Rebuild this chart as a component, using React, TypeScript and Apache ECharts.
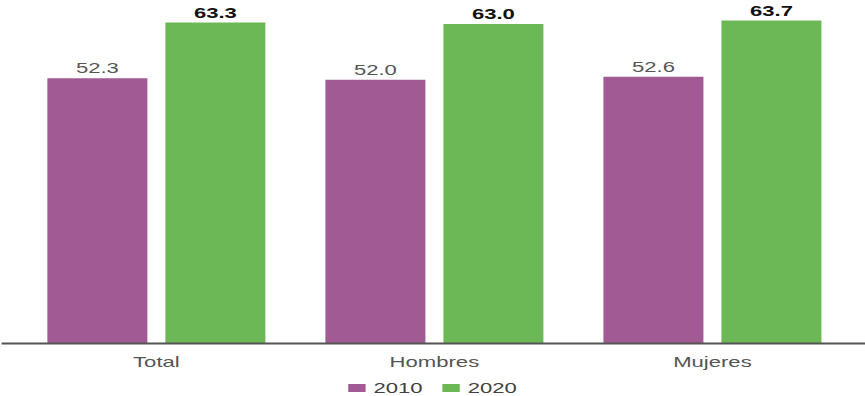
import React, { useEffect, useRef } from "react";
import * as echarts from "echarts";

const categories = ["Total", "Hombres", "Mujeres"];
const values2010 = [52.3, 52.0, 52.6];
const values2020 = [63.3, 63.0, 63.7];
const seriesNames = ["2010", "2020"];

const STRETCH = 1.5785;
const INNER_W = 548;
const H = 396;
const FONT = "'Liberation Sans', Arial, Helvetica, sans-serif";

export default function App() {
  const ref = useRef<HTMLDivElement>(null);
  useEffect(() => {
    if (!ref.current) return;
    const chart = echarts.init(ref.current, undefined, { renderer: "svg" });
    const fmt = (p: any) => Number(p.value).toFixed(1);
    chart.setOption({
      animation: false,
      textStyle: { fontFamily: FONT },
      grid: { left: 11, right: 8.6, top: 14, bottom: 53, containLabel: false },
      legend: {
        data: seriesNames,
        left: "center",
        top: 381,
        padding: 0,
        itemWidth: 11,
        itemHeight: 8,
        itemGap: 12.5,
        icon: "rect",
        textStyle: { fontSize: 14, color: "#404040", fontFamily: FONT },
      },
      xAxis: {
        type: "category",
        data: categories,
        axisLine: { show: false },
        axisTick: { show: false },
        axisLabel: { fontSize: 14, color: "#555555", margin: 12, fontFamily: FONT },
      },
      yAxis: {
        type: "value",
        min: 0,
        max: 65,
        show: false,
        splitLine: { show: false },
      },
      graphic: [
        {
          type: "line",
          shape: { x1: 1, y1: 343.5, x2: INNER_W, y2: 343.5 },
          style: { stroke: "#555555", lineWidth: 2 },
          z: 10,
        },
      ],
      series: [
        {
          name: seriesNames[0],
          type: "bar",
          data: values2010,
          barWidth: 63.35,
          barGap: "18%",
          itemStyle: { color: "#A25A94" },
          label: {
            show: true,
            position: "top",
            distance: 3,
            formatter: fmt,
            fontSize: 14,
            color: "#555555",
            fontFamily: FONT,
          },
        },
        {
          name: seriesNames[1],
          type: "bar",
          data: values2020,
          barWidth: 63.35,
          barGap: "18%",
          itemStyle: { color: "#6DB856" },
          label: {
            show: true,
            position: "top",
            distance: 3,
            formatter: fmt,
            fontSize: 14,
            fontWeight: "bold",
            color: "#111111",
            fontFamily: FONT,
          },
        },
      ],
    });
    return () => chart.dispose();
  }, []);
  return (
    <div
      ref={ref}
      style={{
        position: "fixed",
        left: 0,
        top: 0,
        width: INNER_W,
        height: H,
        transform: `scaleX(${STRETCH})`,
        transformOrigin: "0 0",
        background: "#ffffff",
      }}
    />
  );
}
